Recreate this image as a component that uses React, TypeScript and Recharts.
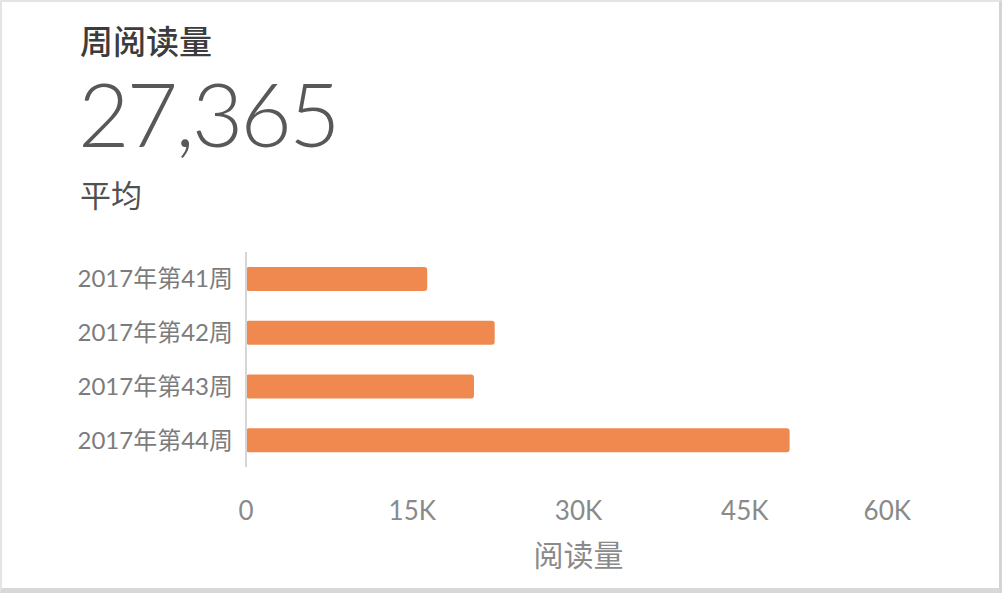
import React from 'react';
import { BarChart, Bar, XAxis, YAxis } from 'recharts';

const weeks = ['2017年第41周', '2017年第42周', '2017年第43周', '2017年第44周'];
const reads = [16350, 22440, 20570, 49050];
const xTicks = [0, 15000, 30000, 45000, 60000];

const title = '周阅读量';
const average = '27,365';
const averageLabel = '平均';
const axisTitle = '阅读量';

const data = weeks.map((w, i) => ({ week: w, reads: reads[i] }));

const latin = "Lato, 'Noto Sans CJK SC', sans-serif";

const XTick = (props: any) => {
  const { x, y, payload, index } = props;
  const last = index === xTicks.length - 1;
  return (
    <text
      x={x}
      y={y}
      dy={51}
      textAnchor={last ? 'end' : 'middle'}
      fill="#8a8a8a"
      fontSize={26}
      fontFamily={latin}
    >
      {payload.value === 0 ? '0' : `${payload.value / 1000}K`}
    </text>
  );
};

const App = () => {
  return (
    <div
      style={{
        position: 'relative',
        width: 1002,
        height: 593,
        boxSizing: 'border-box',
        background: '#fff',
        borderTop: '2px solid #e4e4e4',
        borderLeft: '2px solid #e4e4e4',
        borderRight: '3px solid #d4d4d4',
        borderBottom: '5px solid #d8d8d8',
        overflow: 'hidden',
      }}
    >
      <style>{'body{margin:0}'}</style>
      <div
        style={{
          position: 'absolute',
          left: 78,
          top: 22,
          fontSize: 33,
          lineHeight: 1,
          fontWeight: 500,
          color: '#3c3c3c',
          fontFamily: "'Noto Sans CJK SC', sans-serif",
        }}
      >
        {title}
      </div>
      <div
        style={{
          position: 'absolute',
          left: 76,
          top: 66,
          height: 89,
          fontSize: 89,
          lineHeight: '89px',
          fontWeight: 300,
          letterSpacing: -3,
          color: '#585858',
          fontFamily: latin,
        }}
      >
        {average}
      </div>
      <div
        style={{
          position: 'absolute',
          left: 78,
          top: 176,
          fontSize: 31,
          lineHeight: 1,
          fontWeight: 400,
          color: '#505050',
          fontFamily: "'Noto Sans CJK SC', sans-serif",
        }}
      >
        {averageLabel}
      </div>
      <div style={{ position: 'absolute', left: -2, top: -2 }}>
        <BarChart
          layout="vertical"
          width={1002}
          height={593}
          data={data}
          margin={{ top: 252, right: 91, left: 0, bottom: 66 }}
        >
          <XAxis
            type="number"
            domain={[0, 60000]}
            ticks={xTicks}
            axisLine={false}
            tickLine={false}
            tickSize={0}
            height={60}
            tick={<XTick />}
            label={{
              value: axisTitle,
              position: 'bottom',
              offset: 18,
              fill: '#8a8a8a',
              fontSize: 30,
              fontFamily: "'Noto Sans CJK SC', sans-serif",
            }}
          />
          <YAxis
            type="category"
            dataKey="week"
            width={246}
            axisLine={{ stroke: '#d6d6d6', strokeWidth: 2 }}
            tickLine={false}
            tickSize={0}
            tickMargin={13}
            tick={{ fill: '#7c7c7c', fontSize: 24, fontFamily: latin }}
          />
          <Bar
            dataKey="reads"
            fill="#F0894F"
            barSize={24}
            radius={[3, 3, 3, 3]}
            isAnimationActive={false}
          />
        </BarChart>
      </div>
    </div>
  );
};

export default App;
